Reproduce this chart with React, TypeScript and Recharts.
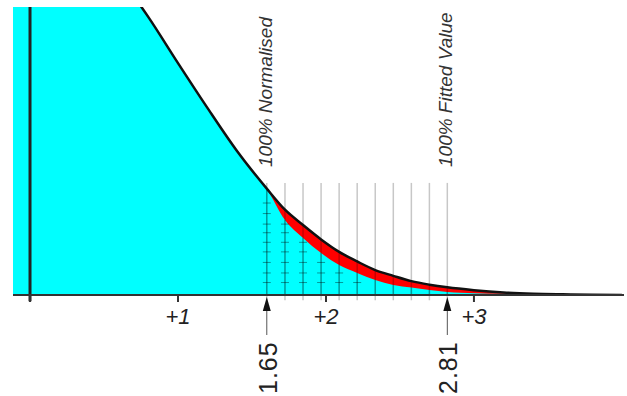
import {
  ComposedChart,
  Area,
  Line,
  Scatter,
  XAxis,
  YAxis,
  ReferenceLine,
} from 'recharts';

// values (x in sigma units, y in density units)
const zValues = [
  -0.12, 0, 0.2, 0.4, 0.6, 0.8, 1.0, 1.2, 1.4, 1.6, 1.723, 1.845, 1.967, 2.089,
  2.211, 2.333, 2.455, 2.577, 2.699, 2.82, 3.0, 3.2, 3.4, 3.6, 3.8, 4.0,
];
const upperCurve = [
  0.396, 0.399, 0.391, 0.368, 0.333, 0.29, 0.242, 0.195, 0.15, 0.111, 0.089,
  0.073, 0.058, 0.045, 0.035, 0.026, 0.02, 0.0145, 0.0108, 0.008, 0.005, 0.0026,
  0.0013, 0.0007, 0.0003, 0.0001,
];
// cyan boundary inside the tail; null = same as the upper curve
const lowerCurve = [
  null, null, null, null, null, null, null, null, null, null, 0.0783, 0.0595,
  0.0438, 0.0313, 0.023, 0.0157, 0.0104, 0.0078, 0.0052, 0.0031, 0.0019, 0.0012,
  null, null, null, null,
];

const gridLines = [
  1.6, 1.723, 1.845, 1.967, 2.089, 2.211, 2.333, 2.455, 2.577, 2.699, 2.82,
];
const dashLevels = [0.096, 0.085, 0.074, 0.065, 0.055, 0.045, 0.034, 0.023, 0.013];
const gridTop = 0.117;
const titleLevel = 0.1336;

const markers = [
  { z: 1.6, y: 0, label: '1.65', title: '100% Normalised' },
  { z: 2.82, y: 0, label: '2.81', title: '100% Fitted Value' },
];

const xTicks = [0, 1, 2, 3];
const xDomain = [-0.115, 4.014];
const yDomain = [0, 0.3006];

const table = zValues.map((z, i) => ({
  z,
  upper: upperCurve[i],
  lower: lowerCurve[i] ?? upperCurve[i],
}));

const lowerAt = (z: number) => {
  const row = table.find((r) => r.z === z);
  return row ? row.lower : 0;
};

const dashes = gridLines.flatMap((z) =>
  dashLevels.filter((lv) => lv < lowerAt(z) - 0.004).map((lv) => ({ z, y: lv }))
);

const titles = markers.map((m) => ({ ...m, y: titleLevel }));

const FONT = '"Liberation Sans", Arial, sans-serif';

const Dash = (props: any) => {
  const { cx, cy } = props;
  return (
    <line x1={cx - 4} y1={cy} x2={cx + 4} y2={cy} stroke="rgba(0,0,0,0.4)" strokeWidth={1} />
  );
};

const ArrowMark = (props: any) => {
  const { cx, cy, payload } = props;
  return (
    <g>
      <path d={`M${cx},${cy + 2} L${cx - 4},${cy + 16} L${cx + 4},${cy + 16} Z`} fill="#111" />
      <line x1={cx} y1={cy + 16} x2={cx} y2={cy + 40} stroke="#555" strokeWidth={1} />
      <text
        x={cx + 10}
        y={cy + 99}
        transform={`rotate(-90 ${cx + 10} ${cy + 99})`}
        fontSize={25}
        letterSpacing={1}
        fill="#222"
        fontFamily={FONT}
      >
        {payload.label}
      </text>
    </g>
  );
};

const TitleMark = (props: any) => {
  const { cx, cy, payload } = props;
  return (
    <text
      x={cx + 5}
      y={cy}
      transform={`rotate(-90 ${cx + 5} ${cy})`}
      fontSize={19}
      fontStyle="italic"
      fill="#333"
      fontFamily={FONT}
    >
      {payload.title}
    </text>
  );
};

const App = () => {
  return (
    <div style={{ position: 'absolute', left: 0, top: 0, width: 627, height: 396, background: '#fff' }}>
      <ComposedChart
        width={627}
        height={396}
        data={table}
        margin={{ top: 7, right: 3, left: 13, bottom: 0 }}
        style={{ fontFamily: FONT }}
      >
        <XAxis
          dataKey="z"
          type="number"
          domain={xDomain}
          allowDataOverflow
          ticks={xTicks}
          tickFormatter={(v: number) => (v === 0 ? '' : `+${v}`)}
          tick={{ fontSize: 22, fontStyle: 'italic', fill: '#222' }}
          tickLine={{ stroke: '#333', strokeWidth: 2 }}
          tickSize={7}
          tickMargin={6}
          axisLine={{ stroke: '#333', strokeWidth: 2 }}
          height={101}
        />
        <XAxis xAxisId="free" dataKey="z" type="number" domain={xDomain} hide />
        <YAxis type="number" domain={yDomain} allowDataOverflow hide width={0} />
        <YAxis yAxisId="free" type="number" domain={yDomain} hide width={0} />
        <Area
          dataKey="upper"
          type="monotone"
          fill="#ff0000"
          fillOpacity={1}
          stroke="none"
          isAnimationActive={false}
        />
        <Area
          dataKey="lower"
          type="monotone"
          fill="#00ffff"
          fillOpacity={1}
          stroke="none"
          isAnimationActive={false}
        />
        {gridLines.map((z) => (
          <ReferenceLine
            key={`g${z}`}
            segment={[
              { x: z, y: -0.0055 },
              { x: z, y: gridTop },
            ]}
            stroke="rgba(0,0,0,0.22)"
            strokeWidth={1.5}
            ifOverflow="visible"
          />
        ))}
        {gridLines.map((z) => (
          <ReferenceLine
            key={`c${z}`}
            segment={[
              { x: z, y: 0 },
              { x: z, y: lowerAt(z) },
            ]}
            stroke="rgba(0,0,0,0.22)"
            strokeWidth={1.5}
            ifOverflow="visible"
          />
        ))}
        <ReferenceLine
          segment={[
            { x: 0, y: -0.0065 },
            { x: 0, y: 0.3006 },
          ]}
          stroke="#222"
          strokeWidth={3}
          ifOverflow="visible"
        />
        <Scatter data={dashes} dataKey="y" shape={<Dash />} isAnimationActive={false} />
        <Line
          dataKey="upper"
          type="monotone"
          stroke="#111"
          strokeWidth={2.5}
          dot={false}
          activeDot={false}
          isAnimationActive={false}
        />
        <Scatter
          data={markers}
          dataKey="y"
          xAxisId="free"
          yAxisId="free"
          shape={<ArrowMark />}
          isAnimationActive={false}
        />
        <Scatter data={titles} dataKey="y" shape={<TitleMark />} isAnimationActive={false} />
      </ComposedChart>
    </div>
  );
};

export default App;
